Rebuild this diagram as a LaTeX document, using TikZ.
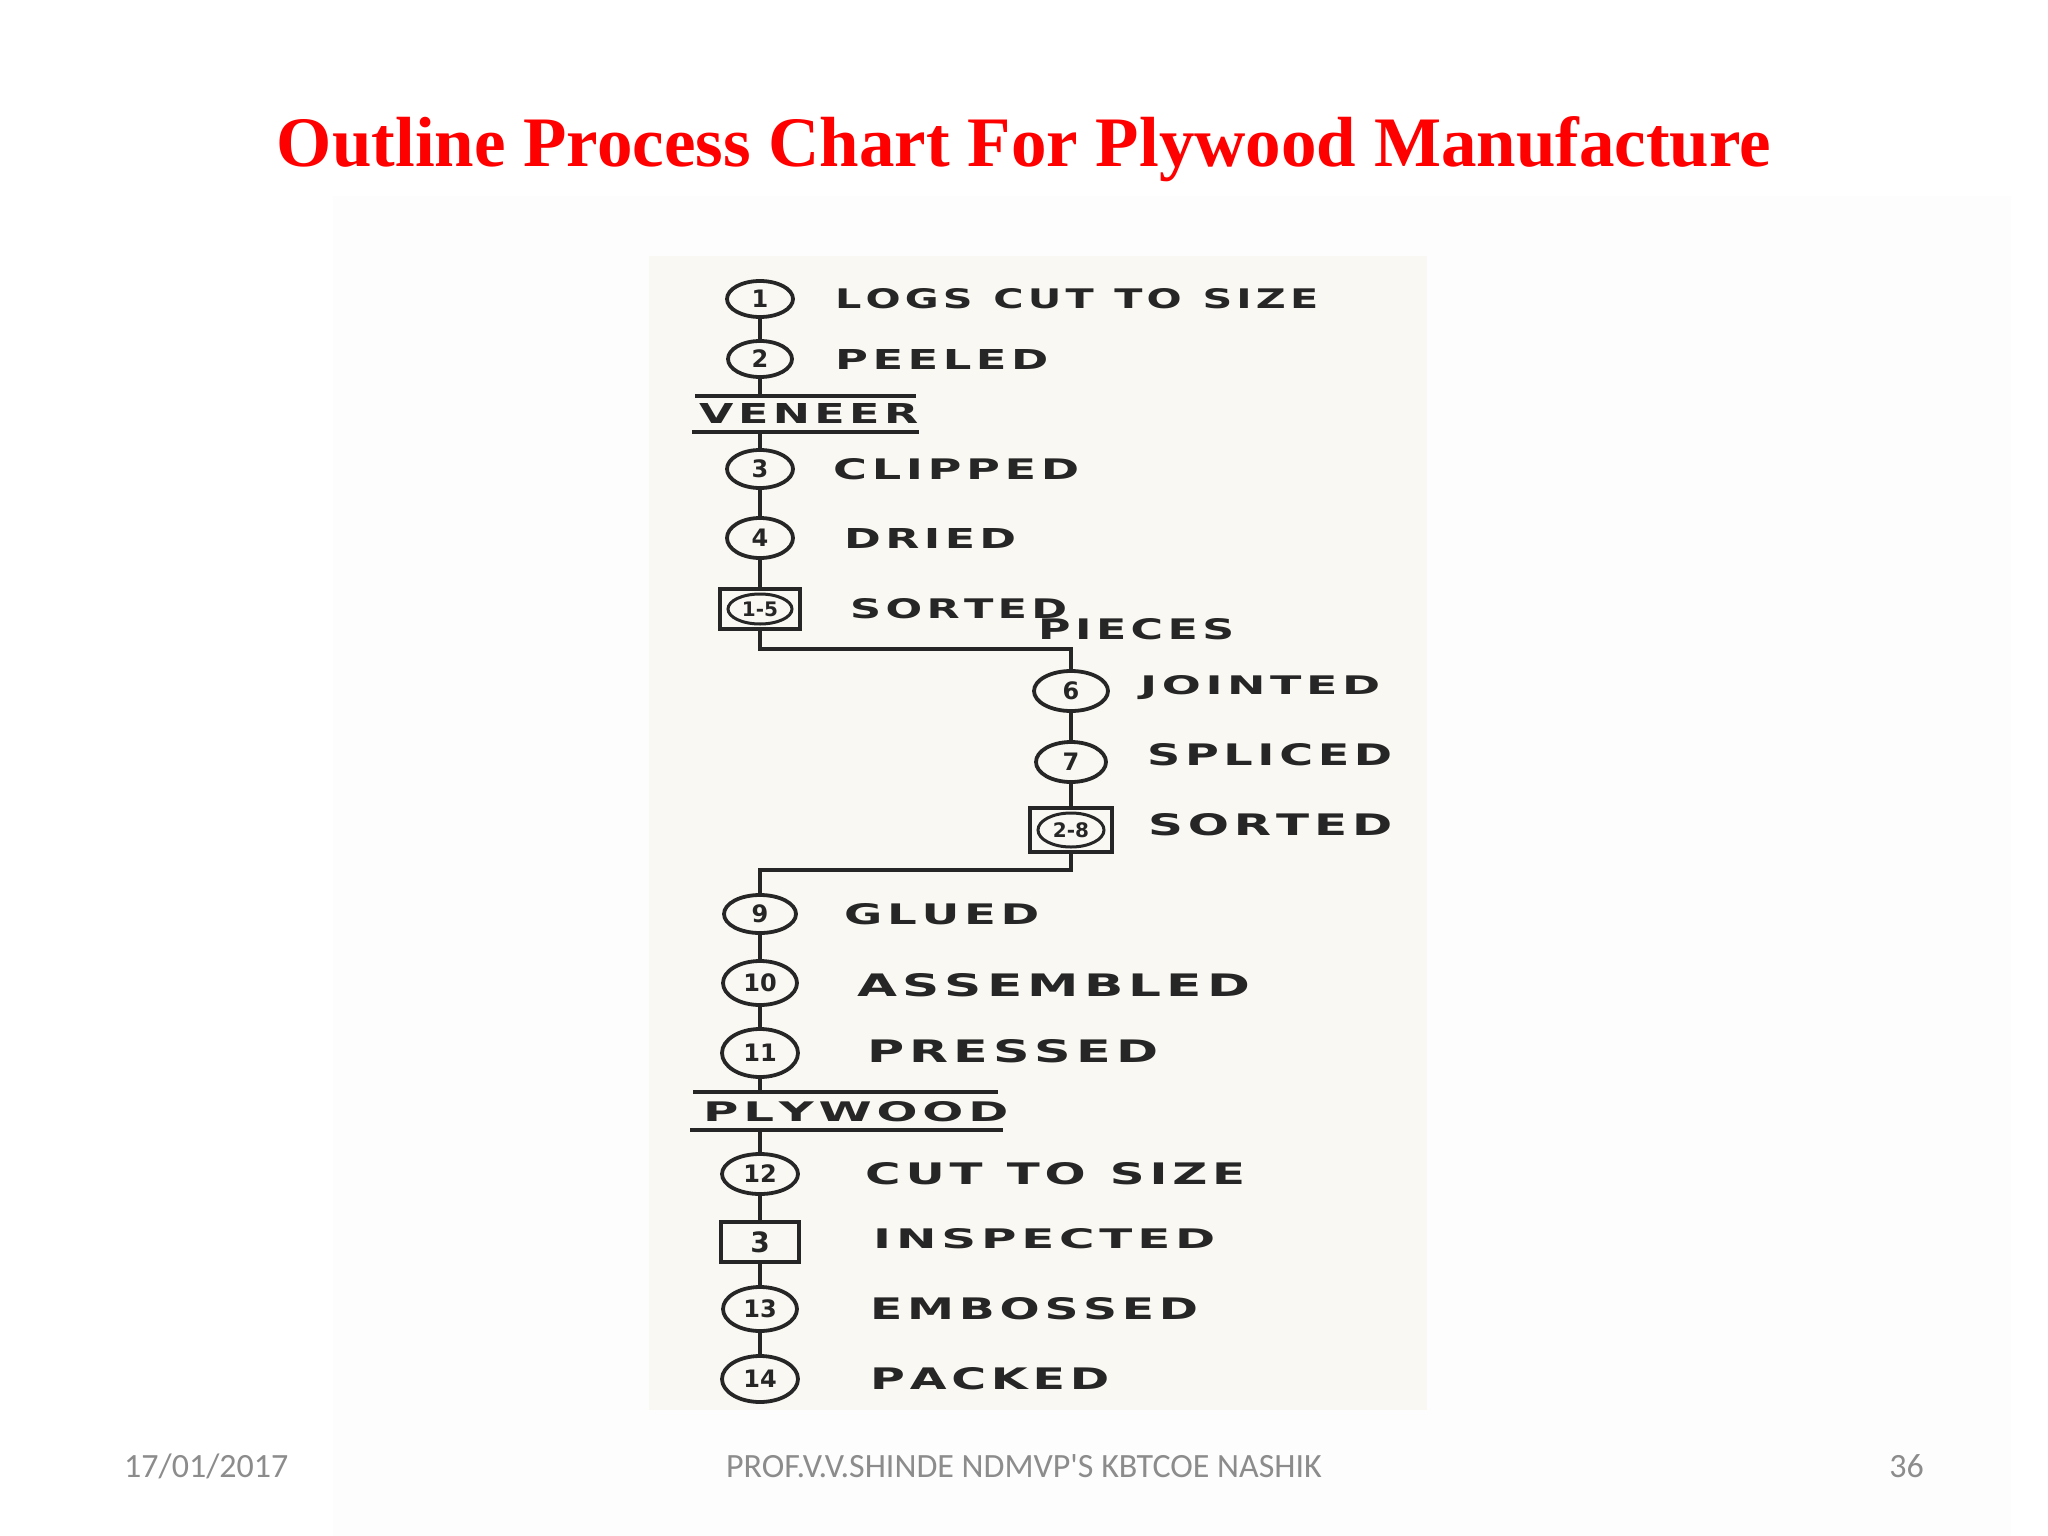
\documentclass[tikz,border=0pt]{standalone}
\usepackage{fontspec}
\usepackage{graphicx}
\usetikzlibrary{shapes.geometric}
\newfontfamily\titlefont{Liberation Serif}
\newfontfamily\handfont{DejaVu Sans}
\newfontfamily\footfont{Carlito}
\definecolor{ink}{HTML}{262626}
\definecolor{scanbg}{HTML}{FAF8F2}
\definecolor{slidebg}{HTML}{FDFDFD}
\definecolor{footgray}{HTML}{8C8C8C}
\definecolor{titlered}{HTML}{FF0000}
\makeatletter
\def\trk#1{\trk@a#1\trk@end}
\def\trk@end{\trk@end}
\def\trk@a#1{\ifx#1\trk@end\else#1\expandafter\trk@b\fi}
\def\trk@b#1{\ifx#1\trk@end\else\kern.1em#1\expandafter\trk@b\fi}
\makeatother
\newcommand\lab[3]{\resizebox{#1pt}{#2pt}{\handfont\bfseries #3}}
\newcommand\wsp{\hspace{.5em}}
\tikzset{
  op/.style={ellipse, draw=ink, line width=3.8pt, inner sep=0pt, text=ink,
    font=\handfont\bfseries\fontsize{24}{24}\selectfont},
  inspbox/.style={rectangle, draw=ink, line width=3.8pt, inner sep=0pt, text=ink,
    font=\handfont\bfseries\fontsize{28}{28}\selectfont},
  lbl/.style={anchor=west, inner sep=0pt, text=ink},
  flow/.style={draw=ink, line width=4.2pt},
  rulel/.style={draw=ink, line width=3.8pt},
  foottext/.style={font=\footfont\fontsize{34}{34}\selectfont, text=footgray, inner sep=0pt}
}
\begin{document}
\begin{tikzpicture}[x=1pt,y=-1pt]
\useasboundingbox (0,0) rectangle (2048,1536);
\fill[white] (0,0) rectangle (2048,1536);
\fill[slidebg] (333,196) rectangle (2011,1536);
\fill[scanbg] (649,256) rectangle (1427,1410);

% title
\node[font=\titlefont\bfseries\fontsize{71}{71}\selectfont, text=titlered, anchor=base, inner sep=0pt]
  (title) at (1024,167) {Outline Process Chart For Plywood Manufacture};

% left column, top part
\node[op, minimum width=66pt, minimum height=36pt] (c1) at (760,299) {1};
\node[op, minimum width=64pt, minimum height=36pt] (c2) at (760,359) {2};
\coordinate (vtop) at (760,396);
\coordinate (vbot) at (760,432);
\coordinate (vt1) at (695,396); \coordinate (vt2) at (916,396);
\coordinate (vb1) at (692,432); \coordinate (vb2) at (919,432);
\node[op, minimum width=66pt, minimum height=38pt] (c3) at (760,469) {3};
\node[op, minimum width=66pt, minimum height=40pt] (c4) at (760,538) {4};
\node[inspbox, minimum width=80pt, minimum height=40pt] (s15) at (760,609) {};
\node[op, line width=3pt, minimum width=64pt, minimum height=30pt,
  font=\handfont\bfseries\fontsize{20}{20}\selectfont] (s15c) at (760,609) {1-5};

% corner 1
\coordinate (h1a) at (760,649);
\coordinate (h1b) at (1071,649);

% middle column
\node[op, minimum width=74pt, minimum height=40pt] (c6) at (1071,691) {6};
\node[op, minimum width=70pt, minimum height=40pt] (c7) at (1071,762) {7};
\node[inspbox, minimum width=82pt, minimum height=44pt] (s28) at (1071,830) {};
\node[op, line width=3pt, minimum width=66pt, minimum height=34pt,
  font=\handfont\bfseries\fontsize{20}{20}\selectfont] (s28c) at (1071,830) {2-8};

% corner 2
\coordinate (h2a) at (1071,870);
\coordinate (h2b) at (760,870);

% left column, lower part
\node[op, minimum width=72pt, minimum height=38pt] (c9) at (760,914) {9};
\node[op, minimum width=74pt, minimum height=44pt] (c10) at (760,983) {10};
\node[op, minimum width=76pt, minimum height=48pt] (c11) at (760,1053) {11};
\coordinate (ptop) at (760,1092);
\coordinate (pbot) at (760,1130);
\coordinate (pt1) at (693,1092); \coordinate (pt2) at (998,1092);
\coordinate (pb1) at (690,1130); \coordinate (pb2) at (1003,1130);
\node[op, minimum width=76pt, minimum height=40pt] (c12) at (760,1174) {12};
\node[inspbox, minimum width=78pt, minimum height=40pt] (s3) at (760,1242) {3};
\node[op, minimum width=74pt, minimum height=44pt] (c13) at (760,1309) {13};
\node[op, minimum width=76pt, minimum height=46pt] (c14) at (760,1379) {14};

% labels
\node[lbl] (t1) at (835,299) {\lab{483}{20}{\trk{LOGS}\wsp\trk{CUT}\wsp\trk{TO}\wsp\trk{SIZE}}};
\node[lbl] (t2) at (835,359) {\lab{213}{20}{\trk{PEELED}}};
\node[lbl] (ven) at (699,413) {\lab{219}{20}{\trk{VENEER}}};
\node[lbl] (t3) at (833,469) {\lab{246}{21}{\trk{CLIPPED}}};
\node[lbl] (t4) at (844,538) {\lab{172}{20}{\trk{DRIED}}};
\node[lbl] (t5) at (850,609) {\lab{217}{20}{\trk{SORTED}}};
\node[lbl] (t5b) at (1038,629) {\lab{196}{21}{\trk{PIECES}}};
\node[lbl] (t6) at (1140,688) {\lab{240}{19}{\trk{JOINTED}}};
\node[lbl] (t7) at (1147,755) {\lab{245}{22}{\trk{SPLICED}}};
\node[lbl] (t8) at (1148,825) {\lab{244}{22}{\trk{SORTED}}};
\node[lbl] (t9) at (844,914) {\lab{195}{21}{\trk{GLUED}}};
\node[lbl] (t10) at (857,985) {\lab{393}{23}{\trk{ASSEMBLED}}};
\node[lbl] (t11) at (867,1051) {\lab{291}{23}{\trk{PRESSED}}};
\node[lbl] (ply) at (703,1112) {\lab{305}{20}{\trk{PLYWOOD}}};
\node[lbl] (t12) at (865,1174) {\lab{380}{22}{\trk{CUT}\wsp\trk{TO}\wsp\trk{SIZE}}};
\node[lbl] (t13) at (873,1239) {\lab{342}{20}{\trk{INSPECTED}}};
\node[lbl] (t14) at (870,1309) {\lab{328}{22}{\trk{EMBOSSED}}};
\node[lbl] (t15) at (870,1379) {\lab{239}{22}{\trk{PACKED}}};

% connectors
\draw[flow] (c1) -- (c2);
\draw[flow] (c2) -- (vtop);
\draw[rulel] (vt1) -- (vt2);
\draw[rulel] (vb1) -- (vb2);
\draw[flow] (vbot) -- (c3);
\draw[flow] (c3) -- (c4);
\draw[flow] (c4) -- (s15);
\draw[flow] (s15.south) -- (h1a) -- (h1b) -- (c6.north);
\draw[flow] (c6) -- (c7);
\draw[flow] (c7) -- (s28);
\draw[flow] (s28.south) -- (h2a) -- (h2b) -- (c9.north);
\draw[flow] (c9) -- (c10);
\draw[flow] (c10) -- (c11);
\draw[flow] (c11) -- (ptop);
\draw[rulel] (pt1) -- (pt2);
\draw[rulel] (pb1) -- (pb2);
\draw[flow] (pbot) -- (c12);
\draw[flow] (c12) -- (s3);
\draw[flow] (s3) -- (c13);
\draw[flow] (c13) -- (c14);

% footer
\node[foottext, anchor=base west] (date) at (124,1477) {17/01/2017};
\node[foottext, anchor=base] (author) at (1024,1477) {PROF.V.V.SHINDE NDMVP'S KBTCOE NASHIK};
\node[foottext, anchor=base east] (page) at (1924,1477) {36};
\end{tikzpicture}
\end{document}
